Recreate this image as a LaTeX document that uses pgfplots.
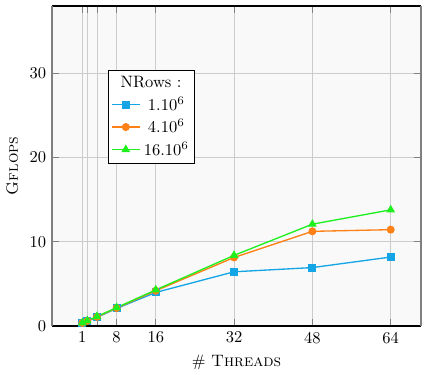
\documentclass[border=0pt]{standalone}
\usepackage{pgfplots}
\pgfplotsset{compat=1.18}
\definecolor{cblue}{RGB}{20,165,230}
\definecolor{corange}{RGB}{255,128,20}
\definecolor{cgreen}{RGB}{30,240,30}
\begin{document}
\begin{tikzpicture}
\begin{axis}[
  scale only axis,
  width=223.6pt, height=194pt,
  xmin=-5.2, xmax=70.2, ymin=0, ymax=38,
  xtick={1,2,4,8,16,32,48,64},
  xticklabels={1,,,8,16,32,48,64},
  ytick={0,10,20,30},
  grid=major,
  grid style={gray!40, line width=0.6pt},
  axis background/.style={fill=gray!5},
  separate axis lines,
  every outer x axis line/.append style={black, line width=0.8pt},
  every outer y axis line/.append style={gray, line width=1.2pt},
  tick style={gray, line width=0.6pt},
  xlabel={\# \textsc{Threads}},
  ylabel={\textsc{Gflops}},
  legend style={at={(0.152,0.8)}, anchor=north west, draw=black, fill=white, line width=0.6pt, inner sep=1.5pt},
  legend cell align=center,
]
\coordinate (ll) at (rel axis cs:0,0);
\coordinate (ur) at (rel axis cs:1,1);
\addlegendimage{empty legend}
\addlegendentry{\hspace{-0.65cm}NRows :}
\addplot[cblue, line width=0.8pt, mark=square*, mark size=2pt] coordinates {
(1,0.35) (2,0.6) (4,1.05) (8,2.1) (16,4.0) (32,6.45) (48,6.95) (64,8.2)};
\addlegendentry{1.10$^6$}
\addplot[corange, line width=0.8pt, mark=*, mark size=2pt] coordinates {
(1,0.38) (2,0.62) (4,1.1) (8,2.15) (16,4.2) (32,8.15) (48,11.25) (64,11.45)};
\addlegendentry{4.10$^6$}
\addplot[cgreen, line width=0.8pt, mark=triangle*, mark size=2.3pt] coordinates {
(1,0.4) (2,0.65) (4,1.15) (8,2.2) (16,4.3) (32,8.4) (48,12.1) (64,13.8)};
\addlegendentry{16.10$^6$}
\end{axis}
\path ([shift={(-31.5pt,-25.5pt)}]ll) rectangle ([shift={(3.6pt,3.6pt)}]ur);
\end{tikzpicture}
\end{document}
